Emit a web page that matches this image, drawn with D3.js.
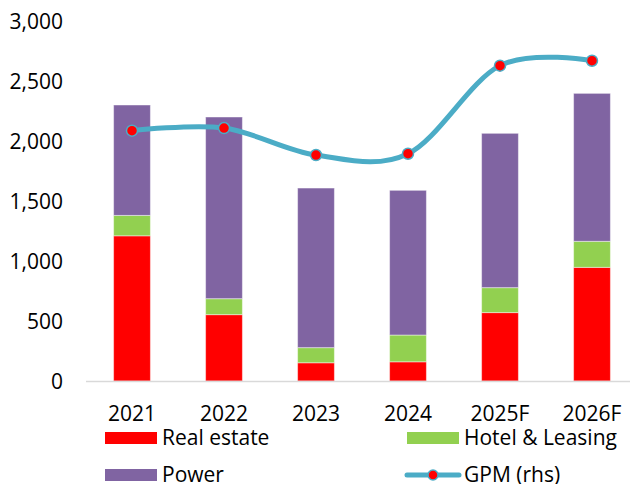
<!DOCTYPE html>
<html>
<head>
<meta charset="utf-8">
<script src="https://cdn.jsdelivr.net/npm/d3@7"></script>
<style>
  body { margin: 0; background: #fff; }
  svg { display: block; font-family: "Open Sans", sans-serif; }
  text { fill: #000; font-size: 21px; }
</style>
</head>
<body>
<svg width="630" height="484"></svg>
<script>
// chart values
var years = ['2021', '2022', '2023', '2024', '2025F', '2026F'];
var realEstate = [1210, 553, 152, 160, 570, 947];
var hotelLeasing = [170, 133, 126, 223, 208, 217];
var power = [920, 1514, 1330, 1206, 1286, 1233];
var gpm = [20.86, 21.08, 18.83, 18.94, 26.28, 26.69];   // rhs, %
var yTicks = [0, 500, 1000, 1500, 2000, 2500, 3000];

var seriesNames = ['Real estate', 'Hotel & Leasing', 'Power'];
var seriesColors = ['#FF0000', '#92D050', '#8064A2'];
var lineColor = '#4BACC6';

var svg = d3.select('svg');

var x = d3.scaleBand()
    .domain(years)
    .range([86, 638])
    .paddingInner(0.6)
    .paddingOuter(0.3);

var y = d3.scaleLinear()
    .domain([0, 3000]).range([381, 21]);

// hidden right-hand axis for GPM
var yR = d3.scaleLinear()
    .domain([0, 30]).range([381, 21]);

// stacked data
var rows = years.map(function(yr, i) {
    return { year: yr, 'Real estate': realEstate[i], 'Hotel & Leasing': hotelLeasing[i], 'Power': power[i] };
});
var stack = d3.stack().keys(seriesNames)(rows);

// y axis labels
var yAxis = svg.append('g')
    .attr('transform', 'translate(63,0)')
    .call(d3.axisLeft(y).tickValues(yTicks).tickSize(0).tickPadding(0).tickFormat(d3.format(',')));
yAxis.select('.domain').remove();
yAxis.selectAll('text').attr('font-size', null).attr('dy', '0.36em').style('font-family', 'Open Sans');

// bars
svg.selectAll('.layer')
    .data(stack)
    .enter()
    .append('g')
    .attr('class', 'layer')
    .attr('fill', function(d, i) { return seriesColors[i]; })
    .selectAll('rect')
    .data(function(d) { return d; })
    .enter()
    .append('rect')
    .attr('x', function(d) { return x(d.data.year); })
    .attr('width', x.bandwidth())
    .attr('y', function(d) { return y(d[1]); })
    .attr('height', function(d) { return y(d[0]) - y(d[1]); })
    .attr('stroke', 'rgba(255,255,255,0.45)')
    .attr('stroke-width', 1);

// x axis
var xAxis = svg.append('g')
    .attr('transform', 'translate(0,381)')
    .call(d3.axisBottom(x).tickSize(0).tickPadding(0));
xAxis.select('.domain').remove();
xAxis.selectAll('text').attr('font-size', null).attr('y', 40).attr('dy', 0).style('font-family', 'Open Sans');

svg.append('line')
    .attr('x1', 86).attr('x2', 630)
    .attr('y1', 381.5).attr('y2', 381.5)
    .attr('stroke', '#D9D9D9')
    .attr('stroke-width', 1.5);

// GPM line
var line = d3.line()
    .x(function(d, i) { return x(years[i]) + x.bandwidth() / 2; })
    .y(function(d) { return yR(d); })
    .curve(d3.curveCardinal.tension(0));

svg.append('path')
    .datum(gpm)
    .attr('d', line)
    .attr('fill', 'none')
    .attr('stroke', lineColor)
    .attr('stroke-width', 5)
    .attr('stroke-linecap', 'round');

svg.selectAll('.gpm-dot')
    .data(gpm)
    .enter()
    .append('circle')
    .attr('class', 'gpm-dot')
    .attr('cx', function(d, i) { return x(years[i]) + x.bandwidth() / 2; })
    .attr('cy', function(d) { return yR(d); })
    .attr('r', 5.5)
    .attr('fill', '#FF0000')
    .attr('stroke', lineColor)
    .attr('stroke-width', 1.5);

// legend
var legendItems = [
    { name: 'Real estate', type: 'rect', color: seriesColors[0], x: 105, y: 438 },
    { name: 'Hotel & Leasing', type: 'rect', color: seriesColors[1], x: 407, y: 438 },
    { name: 'Power', type: 'rect', color: seriesColors[2], x: 105, y: 475 },
    { name: 'GPM (rhs)', type: 'line', color: lineColor, x: 407, y: 475 }
];

var legend = svg.selectAll('.legend')
    .data(legendItems)
    .enter()
    .append('g')
    .attr('class', 'legend')
    .attr('transform', function(d) { return 'translate(' + d.x + ',' + d.y + ')'; });

legend.filter(function(d) { return d.type === 'rect'; })
    .append('rect')
    .attr('x', 0).attr('y', -6)
    .attr('width', 52).attr('height', 12)
    .attr('fill', function(d) { return d.color; });

var lg = legend.filter(function(d) { return d.type === 'line'; });
lg.append('line')
    .attr('x1', 0).attr('x2', 52)
    .attr('y1', 0).attr('y2', 0)
    .attr('stroke', lineColor)
    .attr('stroke-width', 5)
    .attr('stroke-linecap', 'round');
lg.append('circle')
    .attr('cx', 26).attr('cy', 0).attr('r', 5)
    .attr('fill', '#FF0000')
    .attr('stroke', lineColor)
    .attr('stroke-width', 1.5);

legend.append('text')
    .attr('x', 57)
    .attr('y', 7)
    .text(function(d) { return d.name; });
</script>
</body>
</html>
